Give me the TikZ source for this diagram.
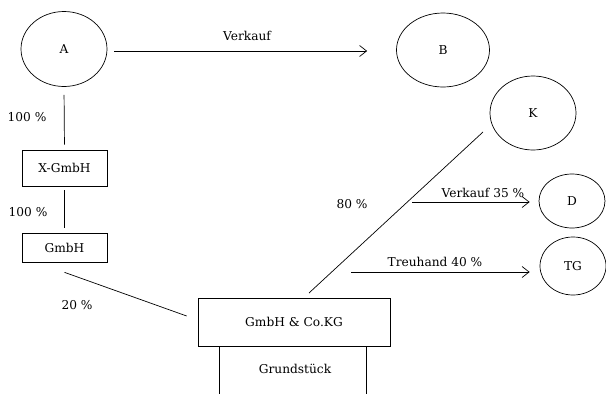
\documentclass[tikz,border=0pt]{standalone}
\usepackage{fontspec}
\setmainfont{DejaVu Serif}
\usetikzlibrary{shapes.geometric,arrows.meta}
\begin{document}
\begin{tikzpicture}[x=1pt,y=-1pt,
  font=\fontsize{12.2}{14}\selectfont,
  line width=0.7pt,
  party/.style={draw,ellipse,inner sep=0pt},
  firm/.style={draw,rectangle,inner sep=0pt},
  lbl/.style={inner sep=0pt},
  flow/.style={-{Straight Barb[length=7pt,width=11pt,line width=0.7pt]}}]
\useasboundingbox (0,0) rectangle (606,394);

% parties
\node[party,minimum width=86pt,minimum height=75pt] (A) at (64,49) {A};
\node[party,minimum width=93pt,minimum height=74pt] (B) at (443,50) {B};
\node[party,minimum width=86pt,minimum height=74pt] (K) at (533,113) {K};
\node[party,minimum width=66pt,minimum height=54pt] (D) at (572,201) {D};
\node[party,minimum width=66pt,minimum height=58pt] (TG) at (573,266) {TG};

% companies
\node[firm,minimum width=85pt,minimum height=36pt] (xg) at (64.5,168) {X-GmbH};
\node[firm,minimum width=85pt,minimum height=29pt] (gm) at (64.5,247.5) {GmbH};
\node[firm,minimum width=192pt,minimum height=48pt] (kg) at (294,322) {GmbH \& Co.KG};
\node[lbl] (gs) at (295,369) {Grundstück};

% labels
\node[lbl] (lv) at (247,36) {Verkauf};
\node[lbl] (l1) at (27,117) {100 \%};
\node[lbl] (l2) at (28,212) {100 \%};
\node[lbl] (l3) at (77,305) {20 \%};
\node[lbl] (l4) at (352,204) {80 \%};
\node[lbl] (l5) at (483,193) {Verkauf 35 \%};
\node[lbl] (l6) at (435,262) {Treuhand 40 \%};

% free ends
\coordinate (k1) at (483,132);
\coordinate (k2) at (309,293);
\coordinate (v1) at (412,202);
\coordinate (t1) at (351,272);

% connectors
\draw[flow,shorten <=7pt,shorten >=29pt] ([yshift=-2pt]A.east) -- ([yshift=-1pt]B.west);
\draw[shorten <=8pt,shorten >=5pt] (A.south) -- (xg.north);
\draw[shorten <=4pt,shorten >=5pt] (xg.south) -- (gm.north);
\draw ([yshift=-10pt]gm.south) -- ([xshift=-11pt,yshift=6pt]kg.west);
\draw (k1) -- (k2);
\draw[flow] (v1) -- ([xshift=-9pt,yshift=-1pt]D.west);
\draw[flow] (t1) -- ([xshift=-10pt,yshift=-6pt]TG.west);
\draw ([xshift=-75pt]kg.south) -- ++(0,48);
\draw ([xshift=72pt]kg.south) -- ++(0,48);
\end{tikzpicture}
\end{document}
